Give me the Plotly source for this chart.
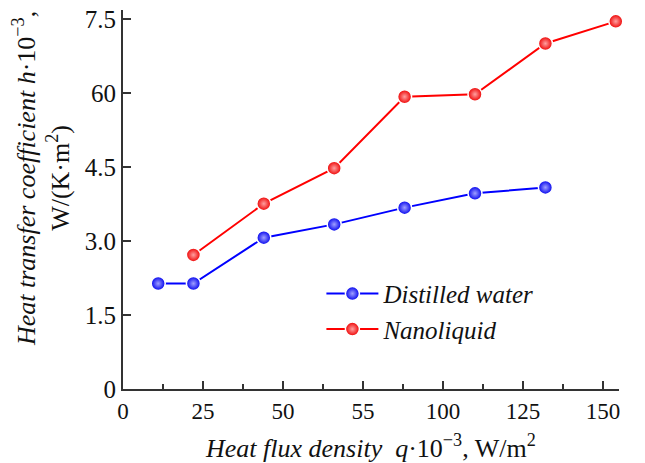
import plotly.graph_objects as go

# Data
q_water = [11, 22, 44, 66, 88, 110, 132]
h_water = [2.14, 2.14, 3.07, 3.34, 3.68, 3.97, 4.09]
q_nano = [22, 44, 66, 88, 110, 132, 154]
h_nano = [2.72, 3.76, 4.48, 5.93, 5.98, 7.01, 7.46]

x_tickvals = [0, 25, 50, 75, 100, 125, 150]
x_ticktext = ["0", "25", "50", "55", "100", "125", "150"]
y_tickvals = [0, 1.5, 3.0, 4.5, 6.0, 7.5]
y_ticktext = ["0", "1.5", "3.0", "4.5", "60", "7.5"]

FONT = "Liberation Serif, Times New Roman, Times, serif"

fig = go.Figure()
fig.add_trace(go.Scatter(
    x=q_water, y=h_water, mode="lines+markers", name="<i>Distilled water</i>",
    line=dict(color="#0000ff", width=2),
    marker=dict(size=14, color="#0000ee", line=dict(color="white", width=1.5),
                gradient=dict(type="radial", color="#a0a0ff")),
    cliponaxis=False,
))
fig.add_trace(go.Scatter(
    x=q_nano, y=h_nano, mode="lines+markers", name="<i>Nanoliquid</i>",
    line=dict(color="#ff0000", width=2),
    marker=dict(size=14, color="#ee0000", line=dict(color="white", width=1.5),
                gradient=dict(type="radial", color="#ffa0a0")),
    cliponaxis=False,
))

fig.update_layout(
    width=645, height=463,
    margin=dict(l=123, r=26, t=10, b=74, autoexpand=False),
    paper_bgcolor="white", plot_bgcolor="white",
    font=dict(family=FONT, size=22, color="#111111"),
    showlegend=True,
    legend=dict(x=0.4, y=0.205, xanchor="left", yanchor="middle",
                bgcolor="rgba(0,0,0,0)", font=dict(family=FONT, size=25),
                tracegroupgap=0, itemwidth=52),
    xaxis=dict(
        range=[0, 155], tickvals=x_tickvals, ticktext=x_ticktext,
        ticks="inside", ticklen=8, tickwidth=1.5, tickcolor="#333333",
        showline=True, linecolor="#333333", linewidth=2, showgrid=False,
        zeroline=False, mirror=False, automargin=False,
        minor=dict(dtick=12.5, tick0=0, ticks="inside", ticklen=5,
                   tickwidth=1.5, tickcolor="#333333", showgrid=False),
        tickfont=dict(family=FONT, size=23),
    ),
    yaxis=dict(
        range=[0, 7.69], tickvals=y_tickvals, ticktext=y_ticktext,
        ticks="inside", ticklen=8, tickwidth=1.5, tickcolor="#333333",
        showline=True, linecolor="#333333", linewidth=2, showgrid=False,
        zeroline=False, automargin=False,
        tickfont=dict(family=FONT, size=25),
    ),
    annotations=[
        dict(
            text="<i>Heat transfer coefficient h</i>·10<sup>−3</sup>,<br>W/(K·m<sup>2</sup>)",
            xref="paper", yref="paper", x=0, y=0.554, xshift=-82,
            xanchor="center", yanchor="middle", textangle=-90, showarrow=False,
            font=dict(family=FONT, size=26, color="#111111"),
        ),
        dict(
            text="<i>Heat flux density  q</i>·10<sup>−3</sup>, W/m<sup>2</sup>",
            xref="paper", yref="paper", x=0.498, y=0, yshift=-57,
            xanchor="center", yanchor="middle", showarrow=False,
            font=dict(family=FONT, size=26, color="#111111"),
        ),
    ],
)

fig.write_html("out.html", config={"displayModeBar": False})

# remove default body margin so the figure sits at the page origin
with open("out.html", "r", encoding="utf-8") as f:
    html = f.read()
html = html.replace("<body>", '<body style="margin:0;padding:0;">', 1)
with open("out.html", "w", encoding="utf-8") as f:
    f.write(html)
